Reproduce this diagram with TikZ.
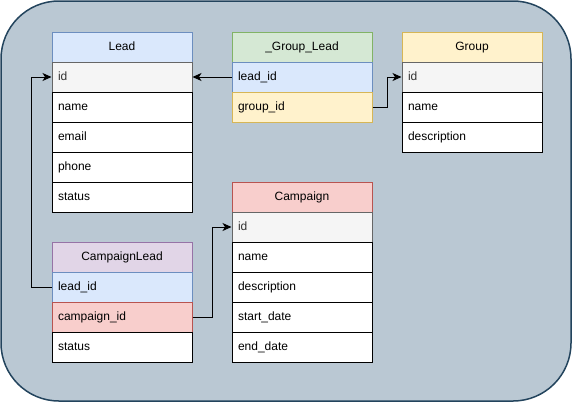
\documentclass[tikz,border=0pt]{standalone}
\usepackage{fontspec}
\setmainfont{Liberation Sans}
\usetikzlibrary{arrows.meta}
\definecolor{bgfill}{HTML}{BAC8D3}
\definecolor{bgline}{HTML}{23445D}
\definecolor{bluefill}{HTML}{DAE8FC}
\definecolor{blueline}{HTML}{6C8EBF}
\definecolor{greenfill}{HTML}{D5E8D4}
\definecolor{greenline}{HTML}{82B366}
\definecolor{yellowfill}{HTML}{FFF2CC}
\definecolor{yellowline}{HTML}{D6B656}
\definecolor{redfill}{HTML}{F8CECC}
\definecolor{redline}{HTML}{B85450}
\definecolor{purplefill}{HTML}{E1D5E7}
\definecolor{purpleline}{HTML}{9673A6}
\definecolor{keyfill}{HTML}{F5F5F5}
\definecolor{keyline}{HTML}{666666}
\definecolor{keytext}{HTML}{333333}
\begin{document}
\begin{tikzpicture}[x=1pt,y=-1pt,
  every node/.style={inner sep=0pt, font=\fontsize{12}{14}\selectfont, minimum width=140pt, minimum height=30pt, anchor=north west, line width=1pt, text height=8.5pt, text depth=2.5pt},
  head/.style={draw, align=center},
  row/.style={draw=black, fill=white, text width=128pt, align=left},
  key/.style={row, draw=keyline, fill=keyfill, text=keytext},
  link/.style={line width=1pt, -{Stealth[length=9pt,width=8pt,inset=2.5pt]}}]
\useasboundingbox (0,0) rectangle (572,402);
\draw [fill=bgfill, draw=bgline, line width=1.5pt, rounded corners=58pt] (1,1) rectangle (571,401);
% Lead
\node [head, fill=bluefill, draw=blueline] (lead) at (51.5,31.5) {Lead};
\node [key] (lead-id) at (51.5,61.5) {id};
\node [row] (lead-name) at (51.5,91.5) {name};
\node [row] (lead-email) at (51.5,121.5) {email};
\node [row] (lead-phone) at (51.5,151.5) {phone};
\node [row] (lead-status) at (51.5,181.5) {status};
% _Group_Lead
\node [head, fill=greenfill, draw=greenline] (gl) at (231.5,31.5) {\_Group\_Lead};
\node [row, fill=bluefill, draw=blueline] (gl-lead) at (231.5,61.5) {lead\_id};
\node [row, fill=yellowfill, draw=yellowline] (gl-group) at (231.5,91.5) {group\_id};
% Group
\node [head, fill=yellowfill, draw=yellowline] (grp) at (401.5,31.5) {Group};
\node [key] (grp-id) at (401.5,61.5) {id};
\node [row] (grp-name) at (401.5,91.5) {name};
\node [row] (grp-desc) at (401.5,121.5) {description};
% Campaign
\node [head, fill=redfill, draw=redline] (camp) at (231.5,181.5) {Campaign};
\node [key] (camp-id) at (231.5,211.5) {id};
\node [row] (camp-name) at (231.5,241.5) {name};
\node [row] (camp-desc) at (231.5,271.5) {description};
\node [row] (camp-start) at (231.5,301.5) {start\_date};
\node [row] (camp-end) at (231.5,331.5) {end\_date};
% CampaignLead
\node [head, fill=purplefill, draw=purpleline] (cl) at (51.5,241.5) {CampaignLead};
\node [row, fill=bluefill, draw=blueline] (cl-lead) at (51.5,271.5) {lead\_id};
\node [row, fill=redfill, draw=redline] (cl-camp) at (51.5,301.5) {campaign\_id};
\node [row] (cl-status) at (51.5,331.5) {status};
% links
\draw [link] (gl-lead.west) -- (lead-id.east);
\draw [link] (gl-group.east) -- ++(15,0) |- (grp-id.west);
\draw [link] (cl-lead.west) -- ++(-20,0) |- (lead-id.west);
\draw [link] (cl-camp.east) -- ++(20,0) |- (camp-id.west);
\end{tikzpicture}
\end{document}
